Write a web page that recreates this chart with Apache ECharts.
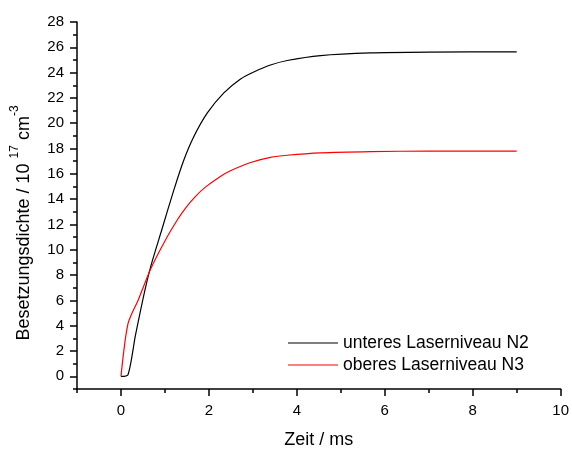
<!DOCTYPE html>
<html>
<head>
<meta charset="utf-8">
<script src="https://cdn.jsdelivr.net/npm/echarts@6/dist/echarts.min.js"></script>
<style>html,body{margin:0;padding:0;background:#fff}#c{width:572px;height:454px}</style>
</head>
<body>
<div id="c"></div>
<script>
// time (ms) and values (10^17 cm^-3)
var tN2 = [0, 0.16, 0.33, 0.55, 0.69, 0.93, 1.2, 1.43, 1.65, 1.96, 2.34, 2.72, 3.02, 3.4, 3.78, 4.54, 5.68, 7.0, 9.0];
var vN2 = [0, 0.13, 3.25, 6.9, 8.85, 11.6, 14.7, 17.1, 18.9, 20.8, 22.4, 23.5, 24.05, 24.6, 24.96, 25.35, 25.56, 25.62, 25.64];
var tN3 = [0, 0.16, 0.4, 0.67, 1.0, 1.28, 1.46, 1.69, 1.92, 2.26, 2.49, 2.95, 3.4, 3.78, 4.54, 5.68, 7.0, 9.0];
var vN3 = [0, 4.16, 6.1, 8.45, 10.7, 12.35, 13.26, 14.2, 14.95, 15.8, 16.25, 16.9, 17.3, 17.47, 17.66, 17.76, 17.8, 17.8];
var seriesNames = ['unteres Laserniveau N2', 'oberes Laserniveau N3'];
var curveLabels = ['N2', 'N3'];
var labelPosN2 = [8.05, 26.6];
var labelPosN3 = [8.05, 18.8];
var xTicksMajor = [0, 2, 4, 6, 8, 10];
var yTicksMajor = [0, 2, 4, 6, 8, 10, 12, 14, 16, 18, 20, 22, 24, 26, 28];
var xTitle = 'Zeit / ms';

function pairs(t, v) { return t.map(function (x, i) { return [x, v[i]]; }); }
var FONT = 'Liberation Sans, Arial, sans-serif';
var chart = echarts.init(document.getElementById('c'), null, {renderer: 'canvas'});

function xAx(major) {
  return {
    type: 'value', min: -1, max: 10, interval: 1, position: 'bottom',
    axisLine: {show: !major, onZero: false, lineStyle: {color: '#000', width: 1.5}},
    axisTick: major ? {show: true, inside: false, length: 7, customValues: xTicksMajor, lineStyle: {color: '#000', width: 1.5}}
                    : {show: true, inside: false, length: 4, lineStyle: {color: '#000', width: 1.5}},
    axisLabel: major ? {show: false} : {show: true, margin: 14, color: '#000', fontSize: 15, fontFamily: FONT,
      formatter: function (v) { return xTicksMajor.indexOf(v) >= 0 ? String(v) : ''; }},
    splitLine: {show: false},
    name: major ? '' : xTitle, nameLocation: 'middle', nameGap: 42,
    nameTextStyle: {color: '#000', fontSize: 18, fontFamily: FONT}
  };
}
function yAx(major) {
  return {
    type: 'value', min: -1, max: 28, interval: 1, position: 'left',
    axisLine: {show: !major, onZero: false, lineStyle: {color: '#000', width: 1.5}},
    axisTick: major ? {show: true, inside: false, length: 7, customValues: yTicksMajor, lineStyle: {color: '#000', width: 1.5}}
                    : {show: true, inside: false, length: 4, lineStyle: {color: '#000', width: 1.5}},
    axisLabel: major ? {show: false} : {show: true, margin: 13, color: '#000', fontSize: 15, fontFamily: FONT,
      formatter: function (v) { return yTicksMajor.indexOf(v) >= 0 ? String(v) : ''; }},
    splitLine: {show: false}
  };
}

chart.setOption({
  animation: false,
  backgroundColor: '#fff',
  grid: {left: 77, right: 11, top: 22, bottom: 60},
  xAxis: [xAx(false), xAx(true)],
  yAxis: [yAx(false), yAx(true)],
  legend: {
    orient: 'vertical', left: 283, top: 329, itemWidth: 50, itemHeight: 1.2, itemGap: 4,
    icon: 'rect',
    textStyle: {color: '#000', fontSize: 17.5, fontFamily: FONT},
    data: seriesNames
  },
  graphic: [{
    type: 'text', x: 21, y: 223, rotation: Math.PI / 2,
    style: {
      text: '{a|Besetzungsdichte / 10 }{s|17}{a| cm}{s|-3}',
      align: 'center', verticalAlign: 'middle',
      rich: {
        a: {fontSize: 18, fontFamily: FONT, fill: '#000', lineHeight: 24, verticalAlign: 'bottom'},
        s: {fontSize: 12, fontFamily: FONT, fill: '#000', lineHeight: 24, verticalAlign: 'top'}
      }
    }
  }],
  series: [
    {
      name: seriesNames[0], type: 'line', data: pairs(tN2, vN2), symbol: 'none',
      smooth: 0.25, lineStyle: {color: '#000', width: 1.2}, itemStyle: {color: '#000'},
      markPoint: {symbol: 'none', silent: true, data: [{coord: labelPosN2, value: curveLabels[0]}],
        label: {show: true, formatter: curveLabels[0], color: '#000', fontSize: 18, fontFamily: FONT}}
    },
    {
      name: seriesNames[1], type: 'line', data: pairs(tN3, vN3), symbol: 'none',
      smooth: 0.25, lineStyle: {color: '#ff0000', width: 1.2}, itemStyle: {color: '#ff0000'},
      markPoint: {symbol: 'none', silent: true, data: [{coord: labelPosN3, value: curveLabels[1]}],
        label: {show: true, formatter: curveLabels[1], color: '#000', fontSize: 18, fontFamily: FONT}}
    }
  ]
});
</script>
</body>
</html>
